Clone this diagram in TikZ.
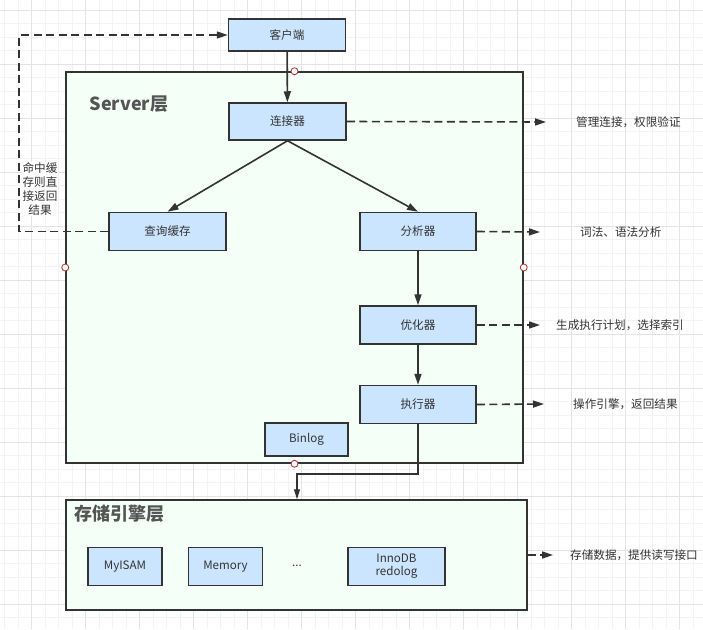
\documentclass[tikz,border=0pt]{standalone}
\usepackage{fontspec}
\setmainfont{Noto Sans CJK SC}
\usetikzlibrary{arrows.meta, positioning, calc}
\definecolor{linec}{HTML}{333333}
\definecolor{boxblue}{HTML}{CCE5FF}
\definecolor{layerfill}{HTML}{F4FFF8}
\definecolor{textc}{HTML}{333333}
\definecolor{titlec}{HTML}{555555}
\definecolor{gridminor}{HTML}{F3F3F3}
\definecolor{gridmajor}{HTML}{E4E4E4}
\definecolor{pinred}{HTML}{B03030}

\begin{document}
\begin{tikzpicture}[x=1pt, y=-1pt, font=\fontsize{11.6}{14}\selectfont, text=textc,
    box/.style={draw=linec, fill=boxblue, line width=1.5pt, minimum width=117pt, minimum height=38pt, align=center, inner sep=1pt},
    smallbox/.style={box, minimum width=74pt},
    layer/.style={draw=linec, fill=layerfill, line width=1.5pt, inner sep=0pt},
    title/.style={font=\fontsize{18}{20}\selectfont\bfseries, text=titlec},
    note/.style={anchor=west, inner sep=0pt},
    arrow/.style={-{Triangle[length=11pt, width=7pt]}, draw=linec, line width=1.6pt},
    thinarrow/.style={-{Triangle[length=10pt, width=6pt]}, draw=linec, line width=1.2pt},
    dasharrow/.style={arrow, dash pattern=on 8pt off 4.5pt},
    pin/.style={circle, draw=pinred, fill=white, line width=0.8pt, minimum size=7pt, inner sep=0pt}]
    \useasboundingbox (0,0) rectangle (703,629);
    \fill[white] (0,0) rectangle (703,629);
    \foreach \i in {0,...,51} \draw[gridminor, line width=0.8pt] ({4.7+13.5*\i},0) -- ++(0,629);
    \foreach \j in {0,...,45} \draw[gridminor, line width=0.8pt] (0,{10.3+13.5*\j}) -- ++(703,0);
    \foreach \i in {0,...,12} \draw[gridmajor, line width=0.8pt] ({31.7+54*\i},0) -- ++(0,629);
    \foreach \j in {0,...,11} \draw[gridmajor, line width=0.8pt] (0,{10.3+54*\j}) -- ++(703,0);

    \node[layer, minimum width=457pt, minimum height=391pt] (server) at (294.5,267.5) {};
    \node[layer, minimum width=461pt, minimum height=110pt] (storage) at (296.5,555) {};
    \node[title] (servertitle) at (129,104) {Server层};
    \node[title] (storagetitle) at (119,514) {存储引擎层};

    \node[box, minimum height=32pt] (client) at (287,35) {客户端};
    \node[box, minimum height=37pt] (conn) at (287.5,121.5) {连接器};
    \node[box] (cache) at (167.5,231.5) {查询缓存};
    \node[box, minimum width=116pt] (parser) at (418,231.5) {分析器};
    \node[box, minimum width=116pt, below=54pt of parser] (optimizer) {优化器};
    \node[box, minimum width=116pt, below=40pt of optimizer] (executor) {执行器};
    \node[box, minimum width=83pt, minimum height=33pt] (binlog) at (306.5,439.5) {Binlog};

    \node[smallbox] (myisam) at (125,566.5) {MyISAM};
    \node[smallbox, right=25pt of myisam] (memory) {Memory};
    \node (dots) at (297,566) {...};
    \node[box, minimum width=97pt, font=\fontsize{11.6}{13}\selectfont] (innodb) at (396.5,566.5) {InnoDB\\redolog};

    \draw[arrow] (client) -- (conn);
    \draw[arrow] (conn.south) -- (cache.north);
    \draw[arrow] (conn.south) -- (parser.north);
    \draw[arrow] (parser) -- (optimizer);
    \draw[arrow] (optimizer) -- (executor);
    \coordinate (bend) at (297,474);
    \draw[thinarrow] (executor.south) |- (bend) -- (bend |- storage.north);

    \draw[dasharrow] (cache.west) -- ++(-89,0) |- (client.west);
    \node[fill=white, align=center, inner sep=1pt, font=\fontsize{11.6}{13.8}\selectfont] (hitnote) at (40,189) {命中缓\\存则直\\接返回\\结果};

    \node[note] (connnote) at (576,122) {管理连接，权限验证};
    \node[note] (parsernote) at (580,232) {词法、语法分析};
    \node[note] (optnote) at (556,325) {生成执行计划，选择索引};
    \node[note] (execnote) at (573,404) {操作引擎，返回结果};
    \node[note] (storenote) at (570,555) {存储数据，提供读写接口};
    \draw[dasharrow] (conn.east) -- ($(connnote.west)+(-30,0)$);
    \draw[dasharrow] (parser.east) -- ($(parsernote.west)+(-40,0)$);
    \draw[dasharrow] (optimizer.east) -- ($(optnote.west)+(-16,0)$);
    \draw[dasharrow] (executor.east) -- ($(execnote.west)+(-29,0)$);
    \draw[dasharrow] (storage.east) -- ($(storenote.west)+(-17,0)$);

    \node[pin] (pintop) at (server.north) {};
    \node[pin] (pinleft) at (server.west) {};
    \node[pin] (pinright) at (server.east) {};
    \node[pin] (pinbottom) at (server.south) {};
\end{tikzpicture}
\end{document}
